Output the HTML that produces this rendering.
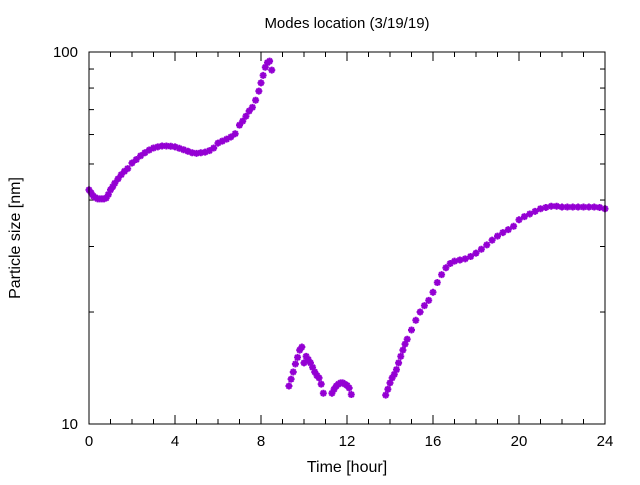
<!DOCTYPE html>
<html><head><meta charset="utf-8"><style>
body{margin:0;background:#fff}
svg text{font-family:"Liberation Sans",sans-serif;fill:#000}
</style></head><body>
<svg id="chart" width="640" height="480" xmlns="http://www.w3.org/2000/svg">
<rect width="640" height="480" fill="#fff"/>
<text x="347" y="28" font-size="15" text-anchor="middle">Modes location (3/19/19)</text>
<text x="347" y="472" font-size="16" text-anchor="middle">Time [hour]</text>
<text transform="translate(20,238) rotate(-90)" font-size="16" text-anchor="middle">Particle size [nm]</text>
<g id="axes"></g>
<g id="marks"></g>
<rect x="89" y="52" width="516" height="372" fill="none" stroke="#000" stroke-width="1"/>
</svg>
<script>
const xTicks=[0,4,8,12,16,20,24];
const yTicks=[10,100];
const hours=[0,0.1,0.2,0.3,0.4,0.5,0.6,0.7,0.8,0.9,1.0,1.1,1.2,1.35,1.5,1.65,1.8,2.0,2.2,2.4,2.6,2.8,3.0,3.2,3.4,3.6,3.8,4.0,4.2,4.4,4.6,4.8,5.0,5.2,5.4,5.6,5.8,6.0,6.2,6.4,6.6,6.8,7.0,7.15,7.3,7.45,7.6,7.75,7.9,8.0,8.1,8.2,8.3,8.4,8.5,
9.3,9.4,9.5,9.6,9.7,9.8,9.9,10.0,10.1,10.2,10.3,10.4,10.5,10.6,10.7,10.8,10.9,11.3,11.4,11.5,11.6,11.7,11.8,11.9,12.0,12.1,12.2,
13.8,13.9,14.0,14.1,14.2,14.3,14.4,14.5,14.6,14.7,14.8,15.0,15.2,15.4,15.6,15.8,16.0,16.2,16.4,16.6,16.8,17.0,17.25,17.5,17.75,18.0,18.25,18.5,18.75,19.0,19.25,19.5,19.75,20.0,20.25,20.5,20.75,21.0,21.25,21.5,21.75,22.0,22.25,22.5,22.75,23.0,23.25,23.5,23.75,24.0];
const sizes=[42.6,41.8,41.0,40.6,40.3,40.3,40.3,40.3,40.5,41.4,42.6,43.4,44.4,45.6,46.8,47.8,48.6,50.3,51.4,52.6,53.6,54.5,55.2,55.6,55.9,55.9,55.8,55.6,55.1,54.6,54.1,53.6,53.4,53.6,53.8,54.3,55.2,56.9,57.6,58.3,59.1,60.3,63.6,65.2,67.2,69.4,71.0,74.2,78.5,82.6,86.5,91.0,93.6,94.5,89.4,
12.65,13.2,13.8,14.5,15.1,15.8,16.1,14.6,15.2,14.9,14.6,14.2,13.8,13.5,13.3,12.8,12.1,12.1,12.4,12.65,12.8,12.9,12.9,12.8,12.7,12.5,12.0,
11.96,12.4,12.9,13.3,13.6,14.0,14.6,15.2,15.8,16.4,16.9,17.9,19.0,20.0,20.8,21.5,22.6,24.0,25.2,26.3,27.0,27.4,27.6,27.8,28.2,28.8,29.5,30.3,31.2,32.0,32.7,33.3,34.0,35.4,36.1,36.7,37.3,37.9,38.2,38.5,38.5,38.3,38.3,38.3,38.3,38.3,38.3,38.3,38.2,37.9];
const X0=89,X1=605,Y0=424,Y1=52;
const xs=h=>X0+(h/24)*(X1-X0);
const ys=v=>Y0-(Math.log10(v)-1)*(Y0-Y1);
const NS="http://www.w3.org/2000/svg";
const axes=document.getElementById('axes'),marks=document.getElementById('marks');
function ln(g,x1,y1,x2,y2){const l=document.createElementNS(NS,'line');l.setAttribute('x1',x1);l.setAttribute('y1',y1);l.setAttribute('x2',x2);l.setAttribute('y2',y2);l.setAttribute('stroke','#000');g.appendChild(l);return l;}
for(let h=0;h<=24;h++){const x=xs(h),L=(h%4===0)?9:5;
const t=ln(axes,x,Y0,x,Y0-L);
const t2=ln(axes,x,Y1,x,Y1+L);}
xTicks.forEach(h=>{const t=document.createElementNS(NS,'text');t.setAttribute('x',xs(h));t.setAttribute('y',446);t.setAttribute('font-size','15');t.setAttribute('text-anchor','middle');t.textContent=h;


axes.appendChild(t);});
for(let v=10;v<=100;v+=10){const y=ys(v),L=(v===10||v===100)?9:5;
const t=ln(axes,X0,y,X0+L,y);
const t2=ln(axes,X1,y,X1-L,y);}
yTicks.forEach(v=>{const t=document.createElementNS(NS,'text');t.setAttribute('x',78);t.setAttribute('y',ys(v)+5);t.setAttribute('font-size','15');t.setAttribute('text-anchor','end');t.textContent=v;


axes.appendChild(t);});
hours.forEach((h,i)=>{const x=xs(h),y=ys(sizes[i]);const p=document.createElementNS(NS,'path');
p.setAttribute('d',`M${x-3.5},${y}H${x+3.5}M${x},${y-3.5}V${y+3.5}M${x-2.5},${y-2.5}L${x+2.5},${y+2.5}M${x-2.5},${y+2.5}L${x+2.5},${y-2.5}`);
p.setAttribute('stroke','#9400d3');p.setAttribute('stroke-width','2');p.setAttribute('fill','none');


marks.appendChild(p);});
</script>
</body></html>
